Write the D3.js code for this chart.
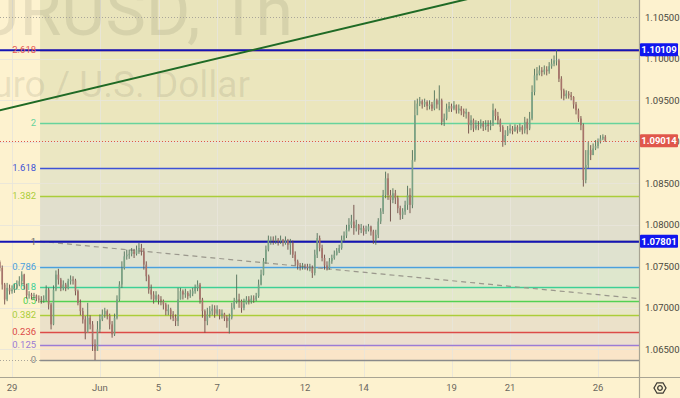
<!DOCTYPE html>
<html>
<head>
<meta charset="utf-8">
<script src="https://cdn.jsdelivr.net/npm/d3@7"></script>
<style>
  html, body { margin: 0; padding: 0; background: #fdf2cf; }
  svg { display: block; font-family: Roboto, 'Noto Sans', sans-serif; }
</style>
</head>
<body>
<div id="chart"></div>
<script>
const width = 680
const height = 398
const plotRight = 639
const plotBottom = 377

// 2h candles, bar 0 = May 29 00:00, 12 bars per trading day
const firstBar = -5
const firstOpen = 1.0755
const closes = [
  1.0748, 1.0728, 1.0710, 1.0724, 1.0720,
  1.0722, 1.0724, 1.0728, 1.0732, 1.0740, 1.0728, 1.0715, 1.0716, 1.0714, 1.0715, 1.0711, 1.0710,
  1.0709, 1.0710, 1.0722, 1.0704, 1.0680, 1.0722, 1.0740, 1.0734, 1.0724, 1.0728, 1.0724, 1.0732,
  1.0734, 1.0733, 1.0720, 1.0706, 1.0696, 1.0686, 1.0670, 1.0688, 1.0680, 1.0656, 1.0648, 1.0674,
  1.0686, 1.0692, 1.0696, 1.0691, 1.0680, 1.0668, 1.0688, 1.0710, 1.0728, 1.0748, 1.0762, 1.0764,
  1.0765, 1.0768, 1.0765, 1.0770, 1.0772, 1.0768, 1.0752, 1.0738, 1.0722, 1.0716, 1.0710, 1.0715,
  1.0710, 1.0708, 1.0704, 1.0696, 1.0698, 1.0692, 1.0688, 1.0684, 1.0710, 1.0720, 1.0716, 1.0718,
  1.0714, 1.0717, 1.0720, 1.0724, 1.0728, 1.0710, 1.0696, 1.0684, 1.0692, 1.0696, 1.0699, 1.0693,
  1.0698, 1.0691, 1.0693, 1.0688, 1.0684, 1.0688, 1.0700, 1.0708, 1.0710, 1.0708, 1.0700, 1.0705,
  1.0710, 1.0708, 1.0711, 1.0710, 1.0714, 1.0728, 1.0740, 1.0756, 1.0770, 1.0782, 1.0782, 1.0781,
  1.0782, 1.0780, 1.0782, 1.0778, 1.0781, 1.0776, 1.0778, 1.0764, 1.0756, 1.0751, 1.0750, 1.0751,
  1.0750, 1.0748, 1.0748, 1.0742, 1.0764, 1.0784, 1.0772, 1.0760, 1.0751, 1.0748, 1.0756, 1.0760,
  1.0764, 1.0768, 1.0772, 1.0782, 1.0787, 1.0794, 1.0800, 1.0804, 1.0796, 1.0800, 1.0794, 1.0796,
  1.0792, 1.0794, 1.0798, 1.0792, 1.0782, 1.0788, 1.0804, 1.0816, 1.0836, 1.0856, 1.0836, 1.0830,
  1.0838, 1.0832, 1.0820, 1.0812, 1.0816, 1.0824, 1.0836, 1.0824, 1.0878, 1.0932, 1.0946, 1.0949,
  1.0945, 1.0948, 1.0943, 1.0945, 1.0940, 1.0950, 1.0945, 1.0950, 1.0924, 1.0928, 1.0940, 1.0943,
  1.0940, 1.0944, 1.0938, 1.0940, 1.0937, 1.0934, 1.0936, 1.0920, 1.0926, 1.0916, 1.0920, 1.0919,
  1.0922, 1.0918, 1.0921, 1.0919, 1.0921, 1.0938, 1.0931, 1.0926, 1.0918, 1.0900, 1.0908, 1.0914,
  1.0916, 1.0913, 1.0918, 1.0914, 1.0918, 1.0914, 1.0924, 1.0916, 1.0928, 1.0960, 1.0980, 1.0982,
  1.0986, 1.0984, 1.0987, 1.0985, 1.0991, 1.0994, 1.0998, 1.0998, 1.0976, 1.0962, 1.0955, 1.0958,
  1.0956, 1.0954, 1.0945, 1.0938, 1.0928, 1.0920, 1.0854, 1.0872, 1.0890, 1.0884, 1.0892, 1.0895,
  1.0900, 1.0904, 1.0906, 1.09014
]
const highs = [
  1.0757, 1.0751, 1.0730, 1.0730, 1.0728,
  1.0727, 1.0729, 1.0733, 1.0738, 1.0744, 1.0741, 1.0729, 1.0720, 1.0718, 1.0718, 1.0716, 1.0715,
  1.0714, 1.0715, 1.0727, 1.0724, 1.0706, 1.0727, 1.0745, 1.0747, 1.0736, 1.0733, 1.0730, 1.0735,
  1.0739, 1.0738, 1.0735, 1.0722, 1.0710, 1.0700, 1.0690, 1.0706, 1.0691, 1.0684, 1.0662, 1.0684,
  1.0692, 1.0698, 1.0700, 1.0698, 1.0693, 1.0684, 1.0693, 1.0715, 1.0732, 1.0756, 1.0768, 1.0770,
  1.0770, 1.0772, 1.0771, 1.0775, 1.0778, 1.0777, 1.0772, 1.0756, 1.0740, 1.0728, 1.0720, 1.0720,
  1.0716, 1.0714, 1.0710, 1.0706, 1.0704, 1.0700, 1.0696, 1.0692, 1.0724, 1.0724, 1.0722, 1.0723,
  1.0720, 1.0722, 1.0724, 1.0728, 1.0733, 1.0730, 1.0712, 1.0698, 1.0700, 1.0702, 1.0704, 1.0703,
  1.0703, 1.0698, 1.0698, 1.0694, 1.0691, 1.0693, 1.0706, 1.0712, 1.0740, 1.0717, 1.0710, 1.0711,
  1.0714, 1.0714, 1.0715, 1.0715, 1.0718, 1.0734, 1.0746, 1.0760, 1.0775, 1.0787, 1.0786, 1.0786,
  1.0787, 1.0784, 1.0787, 1.0783, 1.0786, 1.0783, 1.0783, 1.0781, 1.0768, 1.0758, 1.0754, 1.0754,
  1.0753, 1.0753, 1.0753, 1.0751, 1.0770, 1.0790, 1.0787, 1.0776, 1.0764, 1.0756, 1.0760, 1.0764,
  1.0769, 1.0772, 1.0776, 1.0787, 1.0792, 1.0800, 1.0808, 1.0812, 1.0824, 1.0806, 1.0801, 1.0801,
  1.0799, 1.0799, 1.0801, 1.0799, 1.0794, 1.0794, 1.0808, 1.0820, 1.0842, 1.0864, 1.0862, 1.0842,
  1.0844, 1.0842, 1.0835, 1.0823, 1.0820, 1.0829, 1.0847, 1.0844, 1.0890, 1.0950, 1.0952, 1.0954,
  1.0951, 1.0952, 1.0950, 1.0950, 1.0948, 1.0962, 1.0952, 1.0968, 1.0952, 1.0934, 1.0946, 1.0948,
  1.0946, 1.0949, 1.0945, 1.0945, 1.0943, 1.0940, 1.0940, 1.0936, 1.0932, 1.0928, 1.0926, 1.0925,
  1.0927, 1.0925, 1.0926, 1.0926, 1.0926, 1.0946, 1.0940, 1.0936, 1.0928, 1.0920, 1.0914, 1.0919,
  1.0921, 1.0919, 1.0921, 1.0920, 1.0922, 1.0920, 1.0930, 1.0928, 1.0936, 1.0968, 1.0988, 1.0990,
  1.0992, 1.0990, 1.0992, 1.0991, 1.0996, 1.1000, 1.1004, 1.1011, 1.1000, 1.0979, 1.0964, 1.0962,
  1.0961, 1.0960, 1.0955, 1.0948, 1.0940, 1.0931, 1.0922, 1.0890, 1.0900, 1.0896, 1.0898, 1.0902,
  1.0904, 1.0908, 1.0909, 1.0908
]
const lows = [
  1.0744, 1.0722, 1.0704, 1.0708, 1.0716,
  1.0717, 1.0718, 1.0722, 1.0726, 1.0728, 1.0722, 1.0711, 1.0711, 1.0710, 1.0710, 1.0708, 1.0706,
  1.0705, 1.0706, 1.0708, 1.0698, 1.0674, 1.0679, 1.0720, 1.0728, 1.0720, 1.0721, 1.0720, 1.0722,
  1.0728, 1.0728, 1.0715, 1.0703, 1.0691, 1.0681, 1.0662, 1.0674, 1.0674, 1.0648, 1.0637, 1.0650,
  1.0670, 1.0684, 1.0688, 1.0686, 1.0674, 1.0664, 1.0666, 1.0686, 1.0708, 1.0724, 1.0746, 1.0758,
  1.0759, 1.0762, 1.0760, 1.0763, 1.0765, 1.0763, 1.0746, 1.0732, 1.0717, 1.0710, 1.0705, 1.0708,
  1.0704, 1.0703, 1.0698, 1.0691, 1.0691, 1.0686, 1.0684, 1.0678, 1.0678, 1.0710, 1.0710, 1.0712,
  1.0710, 1.0712, 1.0714, 1.0717, 1.0720, 1.0705, 1.0688, 1.0670, 1.0679, 1.0688, 1.0691, 1.0688,
  1.0691, 1.0686, 1.0687, 1.0684, 1.0676, 1.0669, 1.0686, 1.0698, 1.0705, 1.0700, 1.0694, 1.0697,
  1.0704, 1.0704, 1.0705, 1.0706, 1.0708, 1.0712, 1.0727, 1.0739, 1.0753, 1.0768, 1.0776, 1.0776,
  1.0777, 1.0775, 1.0777, 1.0774, 1.0776, 1.0770, 1.0764, 1.0760, 1.0751, 1.0746, 1.0745, 1.0746,
  1.0746, 1.0745, 1.0744, 1.0736, 1.0739, 1.0760, 1.0768, 1.0756, 1.0746, 1.0745, 1.0746, 1.0753,
  1.0758, 1.0763, 1.0766, 1.0770, 1.0780, 1.0784, 1.0792, 1.0796, 1.0788, 1.0792, 1.0788, 1.0790,
  1.0787, 1.0789, 1.0792, 1.0787, 1.0777, 1.0776, 1.0784, 1.0801, 1.0813, 1.0832, 1.0830, 1.0804,
  1.0826, 1.0825, 1.0814, 1.0806, 1.0807, 1.0812, 1.0818, 1.0814, 1.0820, 1.0876, 1.0940, 1.0943,
  1.0940, 1.0942, 1.0938, 1.0939, 1.0937, 1.0938, 1.0940, 1.0938, 1.0920, 1.0919, 1.0926, 1.0936,
  1.0936, 1.0938, 1.0934, 1.0934, 1.0932, 1.0930, 1.0928, 1.0910, 1.0914, 1.0912, 1.0914, 1.0914,
  1.0916, 1.0913, 1.0914, 1.0912, 1.0914, 1.0919, 1.0926, 1.0921, 1.0912, 1.0894, 1.0896, 1.0907,
  1.0910, 1.0909, 1.0912, 1.0910, 1.0912, 1.0909, 1.0910, 1.0909, 1.0914, 1.0926, 1.0956, 1.0974,
  1.0980, 1.0979, 1.0981, 1.0980, 1.0982, 1.0988, 1.0991, 1.0992, 1.0972, 1.0952, 1.0950, 1.0952,
  1.0952, 1.0950, 1.0940, 1.0933, 1.0924, 1.0914, 1.0846, 1.0850, 1.0868, 1.0878, 1.0884, 1.0890,
  1.0892, 1.0898, 1.0902, 1.0900
]

const barsPerDay = 12
const dayTicks = [0, 3, 5, 7, 10, 12, 15, 17, 20]
const dayLabels = ['29', 'Jun', '5', '7', '12', '14', '19', '21', '26']
const priceTicks = [1.065, 1.07, 1.075, 1.08, 1.085, 1.09, 1.095, 1.1, 1.105]

// fibonacci retracement
const fibLow = 1.06374
const fibHigh = 1.07801
const fibStartBar = 11.5
const fibLevels = [0, 0.125, 0.236, 0.382, 0.5, 0.618, 0.786, 1, 1.382, 1.618, 2, 2.618, 3.618]
const fibLabels = ['0', '0.125', '0.236', '0.382', '0.5', '0.618', '0.786', '1', '1.382', '1.618', '2', '2.618', '']

const hLines = [1.10109, 1.07801]
const lastPrice = 1.09014
const trendLine = [{ bar: -5, price: 1.0938 }, { bar: 188, price: 1.1073 }]
const fibTrend = [{ bar: 11.5, price: 1.0780 }, { bar: 257, price: 1.0711 }]
const dottedLevels = [1.105, 1.06374]

const fibLineColors = ['#8a8a8a', '#9b7bd6', '#dc4a48', '#aacd3a', '#52d152', '#3dcf97', '#4aa0dc',
  '#666666', '#aacd3a', '#3d52d6', '#66d39c', '#e8584f', 'none']
const fibBandColors = ['#fae5c8', '#ecdfcf', '#ebe1c9', '#e8e6c7', '#e3e9c9', '#dee7cd', '#dfe2cf',
  '#e1dfcd', '#e7e5c8', '#ebe7c2', '#ebe6bd', '#e9e4bb']

const x = d3.scaleLinear().domain([0, 240]).range([12, 598])
const y = d3.scaleLinear().domain([1.065, 1.105]).range([349.3, 17.3])
const fibPrice = l => fibLow + l * (fibHigh - fibLow)

const candles = closes.map((c, i) => ({
  bar: i + firstBar,
  open: i ? closes[i - 1] : firstOpen,
  high: highs[i],
  low: lows[i],
  close: c
}))

const svg = d3.select('#chart').append('svg')
  .attr('width', width)
  .attr('height', height)

svg.append('rect').attr('width', width).attr('height', height).attr('fill', '#fdf2cf')

svg.append('defs').append('clipPath').attr('id', 'plot')
  .append('rect').attr('width', plotRight).attr('height', plotBottom)

const plot = svg.append('g').attr('clip-path', 'url(#plot)')

// fib bands
const fibX0 = x(fibStartBar)
plot.append('g')
  .selectAll('rect')
  .data(fibLevels.slice(0, -1))
  .enter()
  .append('rect')
  .attr('x', fibX0)
  .attr('width', plotRight - fibX0)
  .attr('y', (d, i) => y(fibPrice(fibLevels[i + 1])))
  .attr('height', (d, i) => y(fibPrice(d)) - y(fibPrice(fibLevels[i + 1])))
  .attr('fill', (d, i) => fibBandColors[i])

// grid
const grid = plot.append('g').attr('stroke', 'rgba(232,229,218,0.85)').attr('stroke-width', 1)
grid.selectAll('.vg')
  .data(dayTicks)
  .enter()
  .append('line')
  .attr('x1', d => Math.round(x(d * barsPerDay)) + 0.5)
  .attr('x2', d => Math.round(x(d * barsPerDay)) + 0.5)
  .attr('y1', 0)
  .attr('y2', plotBottom)
grid.selectAll('.hg')
  .data(priceTicks.slice(0, -1))
  .enter()
  .append('line')
  .attr('x1', 0)
  .attr('x2', plotRight)
  .attr('y1', d => Math.round(y(d)) + 0.5)
  .attr('y2', d => Math.round(y(d)) + 0.5)

// watermark
plot.append('text')
  .attr('x', 293).attr('y', 35)
  .attr('text-anchor', 'end')
  .style('font-size', '68px')
  .attr('fill', 'rgba(95,90,70,0.13)')
  .text('EURUSD, 1h')
plot.append('text')
  .attr('x', 250).attr('y', 97)
  .attr('text-anchor', 'end')
  .style('font-size', '37px')
  .attr('fill', 'rgba(95,90,70,0.13)')
  .text('Euro / U.S. Dollar')

// dotted levels
plot.selectAll('.dl')
  .data(dottedLevels)
  .enter()
  .append('line')
  .attr('x1', 0)
  .attr('x2', plotRight)
  .attr('y1', d => Math.round(y(d)) + 0.5)
  .attr('y2', d => Math.round(y(d)) + 0.5)
  .attr('stroke', '#aaa69a')
  .attr('stroke-dasharray', '1,2')

// fib level lines
plot.append('g')
  .selectAll('line')
  .data(fibLevels.slice(0, -1))
  .enter()
  .append('line')
  .attr('x1', fibX0)
  .attr('x2', plotRight)
  .attr('y1', d => Math.round(y(fibPrice(d))) + 0.5)
  .attr('y2', d => Math.round(y(fibPrice(d))) + 0.5)
  .attr('stroke', (d, i) => fibLineColors[i])
  .attr('stroke-width', 1.4)

// fib trend (dashed)
const line = d3.line().x(d => x(d.bar)).y(d => y(d.price))
plot.append('path')
  .datum(fibTrend)
  .attr('d', line)
  .attr('fill', 'none')
  .attr('stroke', '#9a978c')
  .attr('stroke-width', 1.2)
  .attr('stroke-dasharray', '5,4')

// horizontal lines
plot.selectAll('.hl')
  .data(hLines)
  .enter()
  .append('line')
  .attr('x1', 0)
  .attr('x2', plotRight)
  .attr('y1', d => y(d) + 0.5)
  .attr('y2', d => y(d) + 0.5)
  .attr('stroke', '#1414b4')
  .attr('stroke-width', 2)

// fib labels
plot.append('g')
  .selectAll('text')
  .data(fibLevels.slice(0, -1))
  .enter()
  .append('text')
  .attr('x', fibX0 - 4)
  .attr('y', d => y(fibPrice(d)))
  .attr('dy', '0.35em')
  .attr('text-anchor', 'end')
  .style('font-size', '9.5px')
  .attr('fill', (d, i) => fibLineColors[i])
  .text((d, i) => fibLabels[i])

// candles
const candleW = 1.6
const cg = plot.append('g')
cg.selectAll('.wick')
  .data(candles)
  .enter()
  .append('line')
  .attr('x1', d => x(d.bar))
  .attr('x2', d => x(d.bar))
  .attr('y1', d => y(d.high))
  .attr('y2', d => y(d.low))
  .attr('stroke', d => (d.close >= d.open ? '#4f6f58' : '#6e4a44'))
  .attr('stroke-width', 0.9)
cg.selectAll('.body')
  .data(candles)
  .enter()
  .append('rect')
  .attr('x', d => x(d.bar) - candleW / 2)
  .attr('width', candleW)
  .attr('y', d => y(Math.max(d.open, d.close)))
  .attr('height', d => Math.max(0.8, Math.abs(y(d.open) - y(d.close))))
  .attr('fill', d => (d.close >= d.open ? '#7aa285' : '#a7736a'))

// trend line
plot.append('path')
  .datum(trendLine)
  .attr('d', line)
  .attr('fill', 'none')
  .attr('stroke', '#1f6a25')
  .attr('stroke-width', 2)

// last price line
plot.append('line')
  .attr('x1', 0)
  .attr('x2', plotRight)
  .attr('y1', Math.round(y(lastPrice)) + 0.5)
  .attr('y2', Math.round(y(lastPrice)) + 0.5)
  .attr('stroke', '#e0554a')
  .attr('stroke-dasharray', '1,2')

// axes borders
svg.append('line')
  .attr('x1', 0).attr('x2', width)
  .attr('y1', plotBottom + 0.5).attr('y2', plotBottom + 0.5)
  .attr('stroke', '#a8a493').attr('stroke-width', 1.2)
svg.append('line')
  .attr('x1', plotRight + 0.5).attr('x2', plotRight + 0.5)
  .attr('y1', 0).attr('y2', height)
  .attr('stroke', '#a8a493').attr('stroke-width', 1.2)

// time axis labels
svg.append('g')
  .selectAll('text')
  .data(dayTicks)
  .enter()
  .append('text')
  .attr('x', d => x(d * barsPerDay))
  .attr('y', 388)
  .attr('dy', '0.35em')
  .attr('text-anchor', 'middle')
  .style('font-size', '9.5px')
  .attr('fill', '#6a675e')
  .text((d, i) => dayLabels[i])

// price axis labels
svg.append('g')
  .selectAll('text')
  .data(priceTicks)
  .enter()
  .append('text')
  .attr('x', 645)
  .attr('y', d => y(d))
  .attr('dy', '0.35em')
  .style('font-size', '9.5px')
  .attr('fill', '#4a4840')
  .text(d => d.toFixed(5))

// price boxes
const boxes = [
  { price: hLines[0], color: '#1016ee' },
  { price: hLines[1], color: '#1016ee' },
  { price: lastPrice, color: '#e0574b' }
]
const bg = svg.append('g').selectAll('g').data(boxes).enter().append('g')
bg.append('rect')
  .attr('x', plotRight + 1)
  .attr('y', d => y(d.price) - 6.5)
  .attr('width', 38)
  .attr('height', 13)
  .attr('rx', 1)
  .attr('fill', d => d.color)
bg.append('text')
  .attr('x', 659)
  .attr('y', d => y(d.price))
  .attr('dy', '0.35em')
  .attr('text-anchor', 'middle')
  .style('font-size', '9.5px')
  .style('font-weight', 'bold')
  .attr('fill', '#ffffff')
  .text(d => d.price.toFixed(5))

// settings icon
const icon = svg.append('g').attr('transform', 'translate(660,388)')
icon.append('path')
  .attr('d', d3.range(6).map((i) => {
    const a = Math.PI / 3 * i
    return (i ? 'L' : 'M') + (6 * Math.cos(a)).toFixed(2) + ',' + (6 * Math.sin(a)).toFixed(2)
  }).join('') + 'Z')
  .attr('fill', 'none')
  .attr('stroke', '#3f3d36')
  .attr('stroke-width', 1.3)
icon.append('circle').attr('r', 2.3).attr('fill', 'none').attr('stroke', '#3f3d36').attr('stroke-width', 1.3)
</script>
</body>
</html>
